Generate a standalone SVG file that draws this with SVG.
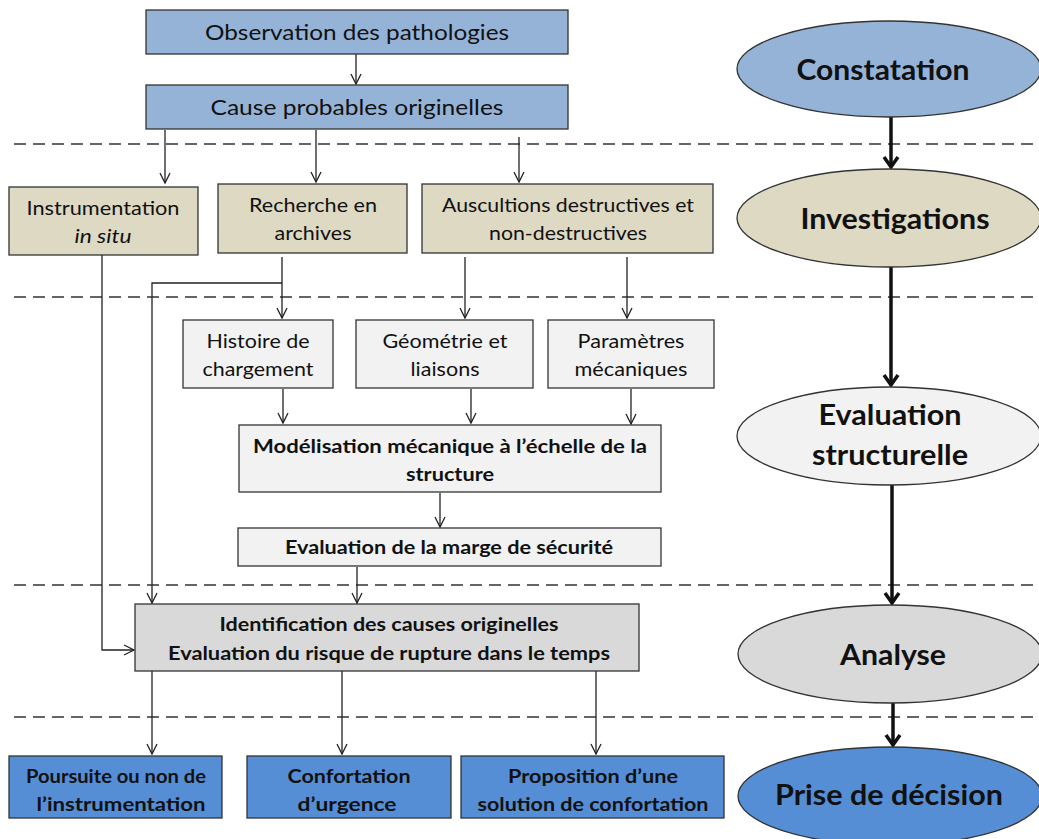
<svg xmlns="http://www.w3.org/2000/svg" width="1039" height="839" viewBox="0 0 1039 839">
<style>
text{font-family:Lato,"Liberation Sans",sans-serif;fill:#111;text-anchor:middle}
.t22{font-size:22px}
.t19{font-size:19px}
.b{font-weight:bold}
.e{font-size:29px;font-weight:bold}
.box{stroke:#333;stroke-width:1.3}
.c1{fill:#95b3d7}.c2{fill:#ddd9c3}.c3{fill:#f2f2f2}.c4{fill:#d9d9d9}.c5{fill:#558ed5}
.dash{stroke:#333;stroke-width:1.5;stroke-dasharray:12 7;fill:none}
.ln{stroke:#222;stroke-width:1.3;fill:none}
.thick{stroke:#111;stroke-width:3.5;fill:none}
</style>
<defs>
<marker id="a" markerUnits="userSpaceOnUse" markerWidth="12" markerHeight="12" refX="0" refY="0" orient="auto" overflow="visible"><path d="M-10,-5 L0,0 L-10,5" fill="none" stroke="#222" stroke-width="1.3"/></marker>
<marker id="at" markerUnits="userSpaceOnUse" markerWidth="14" markerHeight="14" refX="0" refY="0" orient="auto" overflow="visible"><path d="M-10,-7 L0,0 L-10,7" fill="none" stroke="#111" stroke-width="3.5"/></marker>
</defs>
<rect width="1039" height="839" fill="#fff"/>
<g id="separators">
<line class="dash" x1="14" y1="144" x2="1039" y2="144"/>
<line class="dash" x1="14" y1="297" x2="1039" y2="297"/>
<line class="dash" x1="14" y1="585" x2="1039" y2="585"/>
<line class="dash" x1="14" y1="717" x2="1039" y2="717"/>
</g>
<g id="connectors">
<line class="ln" x1="356" y1="54" x2="356" y2="84" marker-end="url(#a)"/>
<line class="ln" x1="165" y1="130" x2="165" y2="183" marker-end="url(#a)"/>
<line class="ln" x1="316" y1="130" x2="316" y2="182" marker-end="url(#a)"/>
<line class="ln" x1="519" y1="137" x2="519" y2="182" marker-end="url(#a)"/>
<polyline class="ln" points="102,255 102,650 134,650" marker-end="url(#a)"/>
<line class="ln" x1="282" y1="257" x2="282" y2="318" marker-end="url(#a)"/>
<polyline class="ln" points="282,283 152,283 152,603" marker-end="url(#a)"/>
<line class="ln" x1="465" y1="257" x2="465" y2="318" marker-end="url(#a)"/>
<line class="ln" x1="627" y1="257" x2="627" y2="318" marker-end="url(#a)"/>
<line class="ln" x1="283" y1="389" x2="283" y2="423" marker-end="url(#a)"/>
<line class="ln" x1="471" y1="389" x2="471" y2="423" marker-end="url(#a)"/>
<line class="ln" x1="631" y1="389" x2="631" y2="424" marker-end="url(#a)"/>
<line class="ln" x1="440" y1="493" x2="440" y2="527" marker-end="url(#a)"/>
<line class="ln" x1="357" y1="567" x2="357" y2="603" marker-end="url(#a)"/>
<line class="ln" x1="152" y1="671" x2="152" y2="754" marker-end="url(#a)"/>
<line class="ln" x1="342" y1="671" x2="342" y2="754" marker-end="url(#a)"/>
<line class="ln" x1="596" y1="671" x2="596" y2="754" marker-end="url(#a)"/>
<line class="thick" x1="891" y1="117" x2="891" y2="167" marker-end="url(#at)"/>
<line class="thick" x1="891" y1="267" x2="891" y2="385" marker-end="url(#at)"/>
<line class="thick" x1="892" y1="485" x2="892" y2="603" marker-end="url(#at)"/>
<line class="thick" x1="893" y1="703" x2="893" y2="745" marker-end="url(#at)"/>
</g>
<g id="n-observation"><rect class="box c1" x="146" y="10" width="422" height="44"/><text class="t22" x="357" y="40" textLength="304" lengthAdjust="spacingAndGlyphs">Observation des pathologies</text></g>
<g id="n-cause"><rect class="box c1" x="146" y="85" width="422" height="44"/><text class="t22" x="357" y="115" textLength="293" lengthAdjust="spacingAndGlyphs">Cause probables originelles</text></g>
<g id="n-instrumentation"><rect class="box c2" x="9" y="187" width="189" height="68"/><text class="t19" x="103" y="215" textLength="153" lengthAdjust="spacingAndGlyphs">Instrumentation</text><text class="t19" x="103" y="243" font-style="italic" textLength="57" lengthAdjust="spacingAndGlyphs">in situ</text></g>
<g id="n-recherche"><rect class="box c2" x="218" y="184" width="189" height="69"/><text class="t19" x="313" y="212" textLength="128" lengthAdjust="spacingAndGlyphs">Recherche en</text><text class="t19" x="313" y="240" textLength="77" lengthAdjust="spacingAndGlyphs">archives</text></g>
<g id="n-auscultions"><rect class="box c2" x="422" y="184" width="291" height="69"/><text class="t19" x="568" y="212" textLength="252" lengthAdjust="spacingAndGlyphs">Auscultions destructives et</text><text class="t19" x="568" y="240" textLength="158" lengthAdjust="spacingAndGlyphs">non-destructives</text></g>
<g id="n-histoire"><rect class="box c3" x="183" y="320" width="150" height="68"/><text class="t19" x="258" y="348" textLength="103" lengthAdjust="spacingAndGlyphs">Histoire de</text><text class="t19" x="258" y="376" textLength="111" lengthAdjust="spacingAndGlyphs">chargement</text></g>
<g id="n-geometrie"><rect class="box c3" x="356" y="320" width="177" height="68"/><text class="t19" x="445" y="348" textLength="125" lengthAdjust="spacingAndGlyphs">Géométrie et</text><text class="t19" x="445" y="376" textLength="69" lengthAdjust="spacingAndGlyphs">liaisons</text></g>
<g id="n-parametres"><rect class="box c3" x="548" y="320" width="166" height="68"/><text class="t19" x="631" y="348" textLength="107" lengthAdjust="spacingAndGlyphs">Paramètres</text><text class="t19" x="631" y="376" textLength="113" lengthAdjust="spacingAndGlyphs">mécaniques</text></g>
<g id="n-modelisation"><rect class="box c3" x="239" y="425" width="422" height="67"/><text class="t19 b" x="450" y="453" textLength="394" lengthAdjust="spacingAndGlyphs">Modélisation mécanique  à l’échelle de la</text><text class="t19 b" x="450" y="481" textLength="88" lengthAdjust="spacingAndGlyphs">structure</text></g>
<g id="n-marge"><rect class="box c3" x="238" y="528" width="423" height="38"/><text class="t19 b" x="449" y="554" textLength="328" lengthAdjust="spacingAndGlyphs">Evaluation de la marge de sécurité</text></g>
<g id="n-identification"><rect class="box c4" x="135" y="604" width="504" height="67"/><text class="t19 b" x="389" y="631" textLength="339" lengthAdjust="spacingAndGlyphs">Identification des causes originelles</text><text class="t19 b" x="389" y="660" textLength="442" lengthAdjust="spacingAndGlyphs">Evaluation du risque de rupture dans le temps</text></g>
<g id="n-poursuite"><rect class="box c5" x="9" y="756" width="213" height="62"/><text class="t19 b" x="116" y="783" textLength="180" lengthAdjust="spacingAndGlyphs">Poursuite ou non de</text><text class="t19 b" x="121" y="811" textLength="169" lengthAdjust="spacingAndGlyphs">l’instrumentation</text></g>
<g id="n-urgence"><rect class="box c5" x="247" y="756" width="204" height="62"/><text class="t19 b" x="349" y="783" textLength="123" lengthAdjust="spacingAndGlyphs">Confortation</text><text class="t19 b" x="347" y="811" textLength="99" lengthAdjust="spacingAndGlyphs">d’urgence</text></g>
<g id="n-proposition"><rect class="box c5" x="461" y="756" width="263" height="62"/><text class="t19 b" x="593" y="783" textLength="170" lengthAdjust="spacingAndGlyphs">Proposition d’une</text><text class="t19 b" x="593" y="811" textLength="231" lengthAdjust="spacingAndGlyphs">solution de confortation</text></g>
<g id="e-constatation"><ellipse class="box c1" cx="889" cy="69" rx="152" ry="48"/><text class="e" x="883" y="80" textLength="173" lengthAdjust="spacingAndGlyphs">Constatation</text></g>
<g id="e-investigations"><ellipse class="box c2" cx="889" cy="218" rx="152" ry="49"/><text class="e" x="895" y="229" textLength="189" lengthAdjust="spacingAndGlyphs">Investigations</text></g>
<g id="e-evaluation"><ellipse class="box c3" cx="889" cy="436" rx="152" ry="49"/><text class="e" x="890" y="425" textLength="143" lengthAdjust="spacingAndGlyphs">Evaluation</text><text class="e" x="890" y="465" textLength="156" lengthAdjust="spacingAndGlyphs">structurelle</text></g>
<g id="e-analyse"><ellipse class="box c4" cx="890" cy="654" rx="152" ry="49"/><text class="e" x="893" y="665" textLength="106" lengthAdjust="spacingAndGlyphs">Analyse</text></g>
<g id="e-decision"><ellipse class="box c5" cx="890" cy="796" rx="152" ry="49"/><text class="e" x="889" y="805" textLength="228" lengthAdjust="spacingAndGlyphs">Prise de décision</text></g>
</svg>
